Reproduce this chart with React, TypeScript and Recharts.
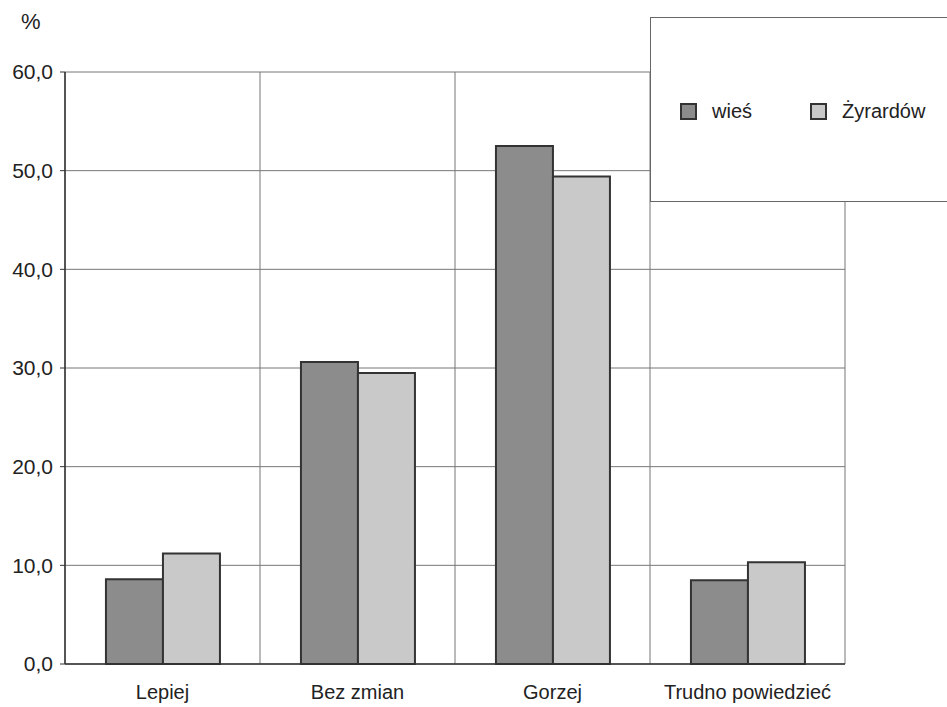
import { BarChart, Bar, XAxis, YAxis, CartesianGrid } from 'recharts';

const categories = ["Lepiej", "Bez zmian", "Gorzej", "Trudno powiedzieć"];
const wies = [8.6, 30.6, 52.5, 8.5];
const zyrardow = [11.2, 29.5, 49.4, 10.3];
const seriesNames = ["wieś", "Żyrardów"];
const yTicks = [0, 10, 20, 30, 40, 50, 60];

const data = categories.map((c, i) => ({ name: c, wies: wies[i], zyr: zyrardow[i] }));

const font = '"Liberation Sans", Arial, sans-serif';
const fills = ["#8c8c8c", "#c9c9c9"];

// vertical grid lines sit on the category boundaries, not the centres
const boundaries = ({ offset }: any) =>
    Array.from({ length: categories.length + 1 }, (_, i) => offset.left + (i * offset.width) / categories.length);

export default function App() {
    return (
        <div style={{ position: 'absolute', left: 0, top: 0, width: 947, height: 707, background: '#fff', fontFamily: font }}>
            <BarChart width={947} height={707} data={data} margin={{ top: 72, right: 102, bottom: 0, left: 0 }}
                barCategoryGap="21%" barGap={0}>
                <CartesianGrid stroke="#777" strokeWidth={1} verticalCoordinatesGenerator={boundaries} />
                <XAxis dataKey="name" height={43} tickLine={false} tickMargin={15}
                    axisLine={{ stroke: '#333', strokeWidth: 1.5 }}
                    tick={{ fill: '#222', fontSize: 20, fontFamily: font }} />
                <YAxis width={65} domain={[0, 60]} ticks={yTicks} tickSize={5} tickMargin={7}
                    tickFormatter={(v) => v.toFixed(1).replace('.', ',')}
                    axisLine={{ stroke: '#333', strokeWidth: 1.5 }} tickLine={{ stroke: '#333' }}
                    tick={{ fill: '#222', fontSize: 21, fontFamily: font }} />
                <Bar dataKey="wies" name={seriesNames[0]} fill={fills[0]} stroke="#333" strokeWidth={2} isAnimationActive={false} />
                <Bar dataKey="zyr" name={seriesNames[1]} fill={fills[1]} stroke="#333" strokeWidth={2} isAnimationActive={false} />
                <text x={21} y={29} fontSize={22} fill="#222" fontFamily={font}>%</text>
            </BarChart>
            <div style={{
                position: 'absolute', left: 650, top: 17, width: 310, height: 185, background: '#fff',
                border: '1px solid #666', boxSizing: 'border-box', fontSize: 20, color: '#222'
            }}>
                {seriesNames.map((n, i) => (
                    <div key={n} style={{ position: 'absolute', left: i === 0 ? 29 : 159, top: 82, display: 'flex', alignItems: 'center' }}>
                        <span style={{ display: 'inline-block', width: 13, height: 13, background: fills[i], border: '2px solid #333', marginRight: 15 }} />
                        <span>{n}</span>
                    </div>
                ))}
            </div>
        </div>
    );
}
